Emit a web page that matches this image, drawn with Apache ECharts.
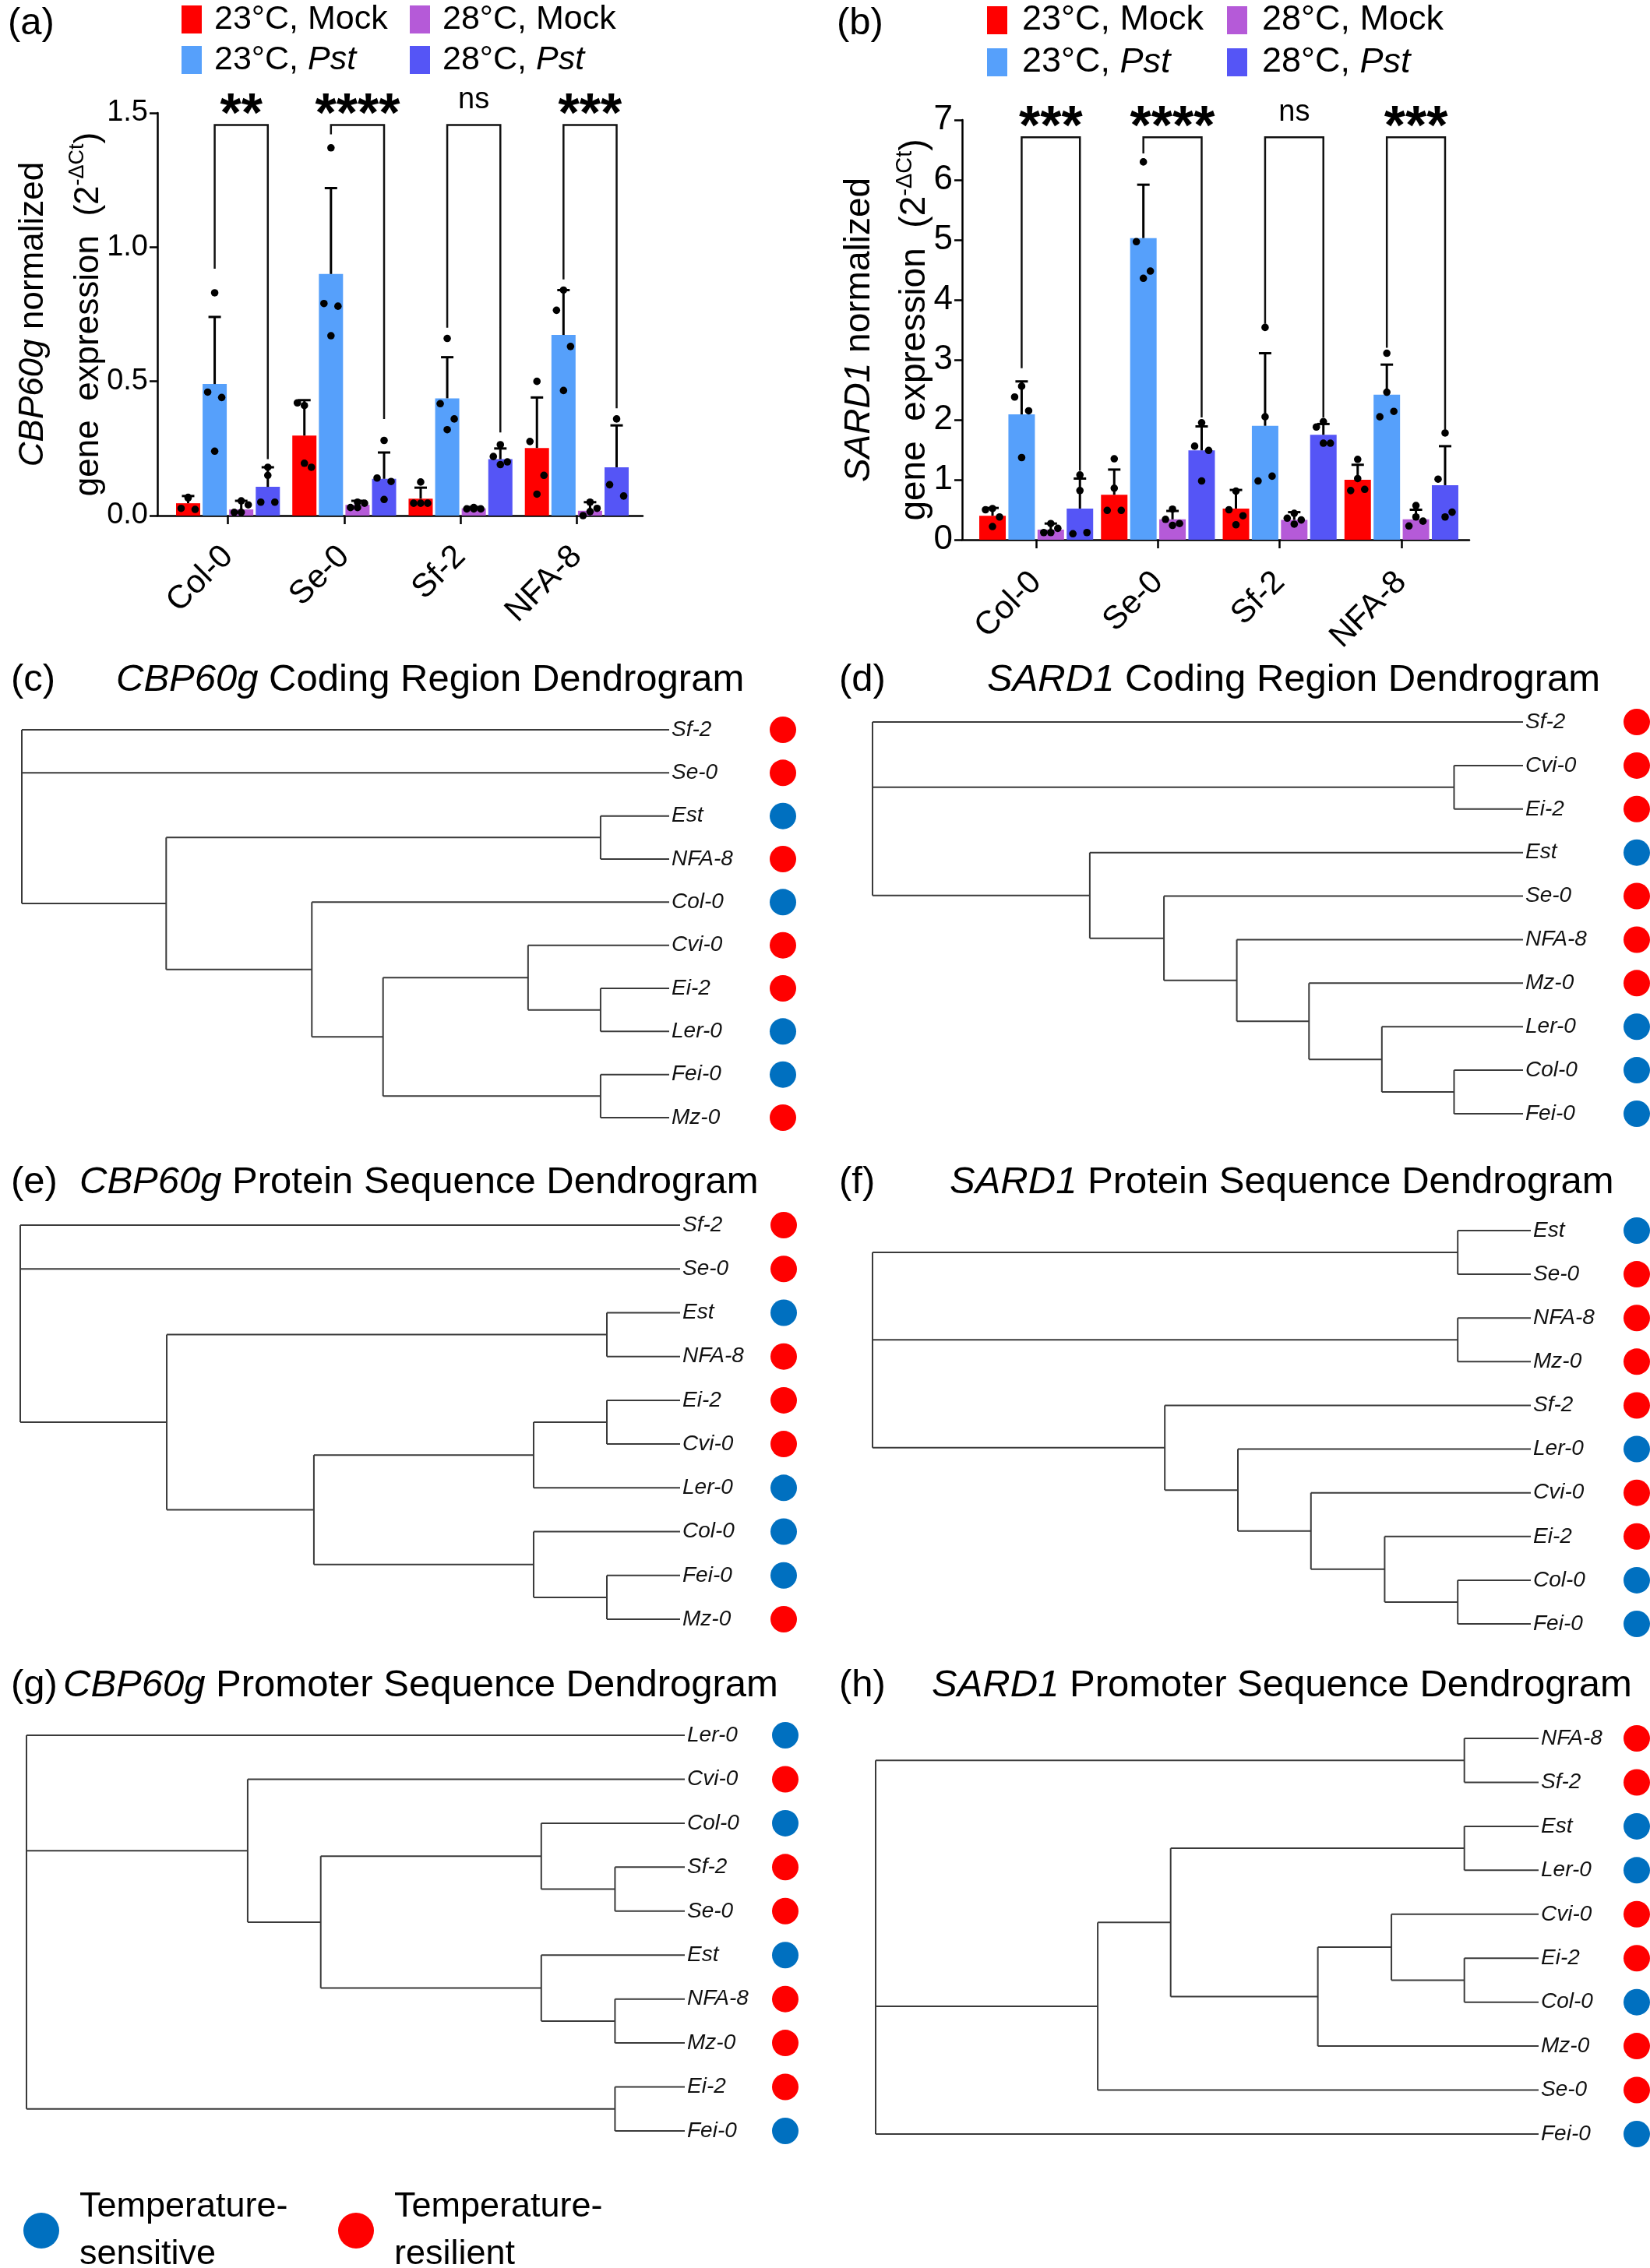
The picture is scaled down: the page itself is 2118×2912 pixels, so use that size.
<!DOCTYPE html>
<html><head><meta charset="utf-8">
<script src="https://cdn.jsdelivr.net/npm/echarts@6/dist/echarts.min.js"></script>
<style>html,body{margin:0;padding:0;background:#fff}#c{width:2118px;height:2912px}</style>
</head><body><div id="c"></div>
<script>
const FONT = '"Liberation Sans", Arial, Helvetica, sans-serif';

// ---------- bar chart data ----------
const accessionsBar = ['Col-0', 'Se-0', 'Sf-2', 'NFA-8'];
const seriesNames = ['23°C, Mock', '23°C, Pst', '28°C, Mock', '28°C, Pst'];
const barColors = ['#ff0000', '#56a0fb', '#b55ad8', '#5555f6'];

// (a) CBP60g
const cbpMock23 = [0.046, 0.298, 0.063, 0.252];
const cbpPst23  = [0.49, 0.90, 0.437, 0.673];
const cbpMock28 = [0.023, 0.04, 0.027, 0.018];
const cbpPst28  = [0.107, 0.137, 0.21, 0.18];
const cbpMock23Sd = [0.027, 0.132, 0.041, 0.188];
const cbpPst23Sd  = [0.25, 0.32, 0.153, 0.167];
const cbpMock28Sd = [0.032, 0.015, 0.005, 0.032];
const cbpPst28Sd  = [0.073, 0.098, 0.04, 0.156];
const cbpMock23Pts = [[0.066, 0.027, 0.023, 0.068], [0.41, 0.42, 0.18, 0.195], [0.125, 0.046, 0.046, 0.046], [0.50, 0.276, 0.15, 0.08]];
const cbpPst23Pts  = [[0.83, 0.46, 0.44, 0.24], [1.37, 0.79, 0.78, 0.67], [0.66, 0.417, 0.36, 0.32], [0.84, 0.765, 0.63, 0.466]];
const cbpMock28Pts = [[0.055, 0.012, 0.04, 0.012], [0.05, 0.03, 0.046, 0.03], [0.03, 0.025, 0.025, 0.025], [0.05, 0.0, 0.027, 0.015]];
const cbpPst28Pts  = [[0.18, 0.05, 0.05, 0.15], [0.28, 0.14, 0.127, 0.06], [0.264, 0.22, 0.2, 0.19], [0.36, 0.115, 0.073]];
const cbpSigLabels = ['**', '****', 'ns', '***'];
const cbpSigTop = [1.455, 1.455, 1.455, 1.455];
const cbpSigLeftEnd = [0.92, 1.42, 0.70, 0.88];
const cbpSigRightEnd = [0.21, 0.36, 0.31, 0.40];

// (b) SARD1
const sardMock23 = [0.40, 0.75, 0.52, 1.0];
const sardPst23  = [2.09, 5.03, 1.90, 2.42];
const sardMock28 = [0.17, 0.34, 0.33, 0.34];
const sardPst28  = [0.52, 1.49, 1.75, 0.91];
const sardMock23Sd = [0.13, 0.42, 0.31, 0.25];
const sardPst23Sd  = [0.55, 0.89, 1.21, 0.50];
const sardMock28Sd = [0.10, 0.14, 0.13, 0.16];
const sardPst28Sd  = [0.50, 0.40, 0.18, 0.65];
const sardMock23Pts = [[0.52, 0.50, 0.38, 0.22], [1.35, 0.49, 0.49, 0.86], [0.81, 0.50, 0.40, 0.25], [1.34, 0.82, 0.84, 1.02]];
const sardPst23Pts  = [[2.56, 2.38, 2.15, 1.37], [6.30, 4.97, 4.48, 4.36], [3.54, 0.98, 1.06, 2.05], [3.11, 2.05, 2.14, 2.46]];
const sardMock28Pts = [[0.27, 0.12, 0.19, 0.12], [0.51, 0.34, 0.27, 0.24], [0.44, 0.36, 0.33, 0.26], [0.57, 0.23, 0.31, 0.38]];
const sardPst28Pts  = [[1.08, 0.10, 0.12, 0.82], [1.95, 1.56, 1.49, 0.98], [1.97, 1.88, 1.61, 1.61], [1.78, 1.01, 0.46, 0.38]];
const sardSigLabels = ['***', '****', 'ns', '***'];
const sardSigTop = [6.71, 6.71, 6.71, 6.71];
const sardSigLeftEnd = [2.86, 6.44, 3.6, 3.2];
const sardSigRightEnd = [1.15, 2.04, 2.04, 1.83];

// ---------- dendrogram data ----------
const resilientAccessions = ['Sf-2', 'Se-0', 'NFA-8', 'Cvi-0', 'Ei-2', 'Mz-0'];
const sensitiveAccessions = ['Est', 'Col-0', 'Ler-0', 'Fei-0'];
const SENS = 'Temperature-\nsensitive';
const RESIL = 'Temperature-\nresilient';

const treeCbpCoding = {h: 1, c: ['Sf-2', 'Se-0', {h: 0.777, c: [{h: 0.106, c: ['Est', 'NFA-8']}, {h: 0.552, c: ['Col-0', {h: 0.442, c: [{h: 0.218, c: ['Cvi-0', {h: 0.106, c: ['Ei-2', 'Ler-0']}]}, {h: 0.106, c: ['Fei-0', 'Mz-0']}]}]}]}]};
const treeSardCoding = {h: 1, c: ['Sf-2', {h: 0.106, c: ['Cvi-0', 'Ei-2']}, {h: 0.666, c: ['Est', {h: 0.552, c: ['Se-0', {h: 0.440, c: ['NFA-8', {h: 0.329, c: ['Mz-0', {h: 0.217, c: ['Ler-0', {h: 0.106, c: ['Col-0', 'Fei-0']}]}]}]}]}]}]};
const treeCbpProtein = {h: 1, c: ['Sf-2', 'Se-0', {h: 0.778, c: [{h: 0.111, c: ['Est', 'NFA-8']}, {h: 0.555, c: [{h: 0.222, c: [{h: 0.111, c: ['Ei-2', 'Cvi-0']}, 'Ler-0']}, {h: 0.222, c: ['Col-0', {h: 0.111, c: ['Fei-0', 'Mz-0']}]}]}]}]};
const treeSardProtein = {h: 1, c: [{h: 0.111, c: ['Est', 'Se-0']}, {h: 0.111, c: ['NFA-8', 'Mz-0']}, {h: 0.556, c: ['Sf-2', {h: 0.445, c: ['Ler-0', {h: 0.334, c: ['Cvi-0', {h: 0.222, c: ['Ei-2', {h: 0.111, c: ['Col-0', 'Fei-0']}]}]}]}]}]};
const treeCbpPromoter = {h: 1, c: ['Ler-0', {h: 0.664, c: ['Cvi-0', {h: 0.553, c: [{h: 0.218, c: ['Col-0', {h: 0.106, c: ['Sf-2', 'Se-0']}]}, {h: 0.218, c: ['Est', {h: 0.106, c: ['NFA-8', 'Mz-0']}]}]}]}, {h: 0.106, c: ['Ei-2', 'Fei-0']}]};
const treeSardPromoter = {h: 1, c: [{h: 0.112, c: ['NFA-8', 'Sf-2']}, {h: 0.665, c: [{h: 0.555, c: [{h: 0.112, c: ['Est', 'Ler-0']}, {h: 0.333, c: [{h: 0.222, c: ['Cvi-0', {h: 0.112, c: ['Ei-2', 'Col-0']}]}, 'Mz-0']}]}, 'Se-0']}, 'Fei-0']};

// ---------- build ----------
const grids = [], xAxes = [], yAxes = [], series = [], titles = [], legends = [];

function barPanel(cfg) {
  const f = grids.length;
  grids.push({left: cfg.axisLeft, top: cfg.top, width: cfg.axisRight - cfg.axisLeft, height: cfg.height, containLabel: false, outerBoundsMode: 'none'});
  xAxes.push({type: 'value', gridIndex: f, min: 0, max: 1, axisLine: {show: true, lineStyle: {color: '#000', width: 2.5}},
    axisTick: {show: false}, axisLabel: {show: false}, splitLine: {show: false}});
  yAxes.push({
    type: 'value', gridIndex: f, min: 0, max: cfg.max, interval: cfg.interval,
    axisLine: {show: true, lineStyle: {color: '#000', width: 2.5}},
    axisTick: {show: true, length: 10, lineStyle: {color: '#000', width: 2.5}},
    axisLabel: {color: '#000', fontSize: cfg.tickFont, fontFamily: FONT, margin: 12, formatter: cfg.fmt},
    splitLine: {show: false},
    name: cfg.yName, nameLocation: 'middle', nameRotate: 90, nameGap: cfg.nameGap, nameMoveOverlap: false,
    nameTextStyle: {color: '#000', fontSize: cfg.nameFont, fontFamily: FONT, lineHeight: 71,
      rich: {
        it: {fontStyle: 'italic', fontSize: cfg.nameFont, fontFamily: FONT, color: '#000', lineHeight: 71},
        sup: {fontSize: Math.round(cfg.nameFont * 0.62), fontFamily: FONT, color: '#000', verticalAlign: 'top', lineHeight: 30, padding: [8, 0, 0, 0]}
      }}
  });
  const g = grids.length;
  grids.push({left: cfg.bandLeft, top: cfg.top, width: cfg.bandWidth, height: cfg.height, containLabel: false, outerBoundsMode: 'none'});
  xAxes.push({
    type: 'category', gridIndex: g, data: accessionsBar,
    axisLine: {show: false},
    axisTick: {show: true, alignWithLabel: true, length: 11, lineStyle: {color: '#000', width: 2.5}},
    axisLabel: {interval: 0, rotate: 45, margin: cfg.catMargin, color: '#000', fontSize: cfg.catFont, fontFamily: FONT},
    splitLine: {show: false}
  });
  yAxes.push({type: 'value', gridIndex: g, min: 0, max: cfg.max, interval: cfg.interval, show: false, splitLine: {show: false}});

  const step = cfg.barW * 1.1;
  cfg.means.forEach((m, s) => series.push({
    type: 'bar', name: seriesNames[s], xAxisIndex: g, yAxisIndex: g, data: m,
    barWidth: cfg.barW, barGap: '10%', itemStyle: {color: barColors[s]}, z: 2, silent: true
  }));
  const errData = [];
  cfg.means.forEach((m, s) => m.forEach((v, c) => errData.push([c, s, v, cfg.sds[s][c]])));
  series.push({
    type: 'custom', xAxisIndex: g, yAxisIndex: g, data: errData, z: 3, silent: true, encode: {x: 0, y: 2},
    renderItem: (p, api) => {
      const c = api.value(0), s = api.value(1), m = api.value(2), sd = api.value(3);
      const b = api.coord([c, m]), t = api.coord([c, m + sd]);
      const x = b[0] + (s - 1.5) * step;
      return {type: 'group', children: [
        {type: 'line', shape: {x1: x, y1: b[1], x2: x, y2: t[1]}, style: {stroke: '#000', lineWidth: 3}},
        {type: 'line', shape: {x1: x - 8, y1: t[1], x2: x + 8, y2: t[1]}, style: {stroke: '#000', lineWidth: 3}}
      ]};
    }
  });
  const jit = [0, -9, 9, 0];
  const ptData = [];
  cfg.pts.forEach((arr, s) => arr.forEach((vals, c) => vals.forEach((v, k) => ptData.push([c, s, v, k]))));
  series.push({
    type: 'custom', xAxisIndex: g, yAxisIndex: g, data: ptData, z: 4, silent: true, encode: {x: 0, y: 2},
    renderItem: (p, api) => {
      const pt = api.coord([api.value(0), api.value(2)]);
      const x = pt[0] + (api.value(1) - 1.5) * step + jit[api.value(3)];
      return {type: 'circle', shape: {cx: x, cy: pt[1], r: 4.8}, style: {fill: '#000'}};
    }
  });
  const brData = cfg.sigTop.map((t, c) => [c, t, cfg.sigL[c], cfg.sigR[c]]);
  series.push({
    type: 'custom', xAxisIndex: g, yAxisIndex: g, data: brData, z: 5, silent: true, clip: false, encode: {x: 0, y: 1},
    renderItem: (p, api) => {
      const c = api.value(0);
      const top = api.coord([c, api.value(1)]);
      const lb = api.coord([c, api.value(2)]);
      const rb = api.coord([c, api.value(3)]);
      const xl = top[0] - 0.5 * step, xr = top[0] + 1.5 * step;
      const lab = cfg.sigLabels[p.dataIndex];
      const isNs = lab === 'ns';
      return {type: 'group', children: [
        {type: 'polyline', shape: {points: [[xl, lb[1]], [xl, top[1]], [xr, top[1]], [xr, rb[1]]]}, style: {stroke: '#111', lineWidth: 2.5, fill: null}},
        {type: 'text', x: (xl + xr) / 2, y: top[1] - (isNs ? 32 : 11), style: {
          text: lab, align: 'center', verticalAlign: 'middle', fill: '#000',
          font: (isNs ? 'normal 38px ' : 'bold 70px ') + FONT}}
      ]};
    }
  });
  const legText = {color: '#000', fontSize: cfg.legFont, fontFamily: FONT, width: cfg.legTextW, lineHeight: 48, padding: [0, 0, 0, cfg.legPad],
    rich: {i: {fontStyle: 'italic', fontSize: cfg.legFont, fontFamily: FONT, color: '#000'}}};
  const fmt = n => n.replace('Pst', '{i|Pst}');
  [[seriesNames[0], seriesNames[2]], [seriesNames[1], seriesNames[3]]].forEach((row, r) => legends.push({
    data: row.map(n => ({name: n, icon: 'rect'})), left: cfg.legLeft, top: cfg.legTops[r], padding: 0, orient: 'horizontal',
    itemWidth: 26, itemHeight: 36, itemGap: cfg.legGap, selectedMode: false, formatter: fmt, textStyle: legText
  }));
}

barPanel({
  axisLeft: 202, axisRight: 825, bandLeft: 218, bandWidth: 597, top: 145, height: 517,
  max: 1.5, interval: 0.5, fmt: v => v.toFixed(1),
  tickFont: 38, catFont: 42, catMargin: 46, barW: 31,
  yName: '{it|CBP60g} normalized\ngene  expression  (2{sup|-ΔCt})', nameFont: 44, nameGap: 53,
  means: [cbpMock23, cbpPst23, cbpMock28, cbpPst28], sds: [cbpMock23Sd, cbpPst23Sd, cbpMock28Sd, cbpPst28Sd],
  pts: [cbpMock23Pts, cbpPst23Pts, cbpMock28Pts, cbpPst28Pts],
  sigLabels: cbpSigLabels, sigTop: cbpSigTop, sigL: cbpSigLeftEnd, sigR: cbpSigRightEnd,
  legLeft: 233, legTops: [1, 53], legFont: 43, legTextW: 240, legPad: 11, legGap: 11
});
barPanel({
  axisLeft: 1235, axisRight: 1886, bandLeft: 1252, bandWidth: 625, top: 154, height: 539,
  max: 7, interval: 1, fmt: v => String(v),
  tickFont: 44, catFont: 42, catMargin: 48, barW: 34,
  yName: '{it|SARD1} normalized\ngene  expression  (2{sup|-ΔCt})', nameFont: 46, nameGap: 25,
  means: [sardMock23, sardPst23, sardMock28, sardPst28], sds: [sardMock23Sd, sardPst23Sd, sardMock28Sd, sardPst28Sd],
  pts: [sardMock23Pts, sardPst23Pts, sardMock28Pts, sardPst28Pts],
  sigLabels: sardSigLabels, sigTop: sardSigTop, sigL: sardSigLeftEnd, sigR: sardSigRightEnd,
  legLeft: 1267, legTops: [2, 56], legFont: 45, legTextW: 250, legPad: 14, legGap: 13
});

function layoutTree(tree) {
  const leaves = [], segs = [];
  (function walk(node) {
    if (typeof node === 'string') { const y = leaves.length; leaves.push(node); return {h: 0, y}; }
    const kids = node.c.map(walk);
    const y = (kids[0].y + kids[kids.length - 1].y) / 2;
    segs.push([node.h, kids[0].y, node.h, kids[kids.length - 1].y]);
    kids.forEach(k => segs.push([node.h, k.y, k.h, k.y]));
    return {h: node.h, y};
  })(tree);
  return {leaves, segs};
}

function treePanel(tree, cfg) {
  const g = grids.length;
  const {leaves, segs} = layoutTree(tree);
  grids.push({left: cfg.left, top: cfg.top, width: cfg.width, height: cfg.height, containLabel: false, outerBoundsMode: 'none'});
  xAxes.push({type: 'value', gridIndex: g, min: 0, max: 1, inverse: true, show: false});
  yAxes.push({type: 'value', gridIndex: g, min: 0, max: leaves.length - 1, inverse: true, show: false});
  series.push({
    type: 'custom', xAxisIndex: g, yAxisIndex: g, data: segs, silent: true, clip: false, encode: {x: [0, 2], y: [1, 3]},
    renderItem: (p, api) => {
      const a = api.coord([api.value(0), api.value(1)]), b = api.coord([api.value(2), api.value(3)]);
      return {type: 'line', shape: {x1: a[0], y1: a[1], x2: b[0], y2: b[1]}, style: {stroke: '#3a3a3a', lineWidth: 2}};
    }
  });
  series.push({
    type: 'custom', xAxisIndex: g, yAxisIndex: g, data: leaves.map((n, i) => [0, i]), silent: true, clip: false, encode: {x: 0, y: 1},
    renderItem: (p, api) => {
      const a = api.coord([api.value(0), api.value(1)]);
      return {type: 'text', x: a[0] + 3, y: a[1], style: {text: leaves[p.dataIndex], align: 'left', verticalAlign: 'middle',
        fill: '#111', font: 'italic 28px ' + FONT}};
    }
  });
  [[SENS, sensitiveAccessions, '#0070c0'], [RESIL, resilientAccessions, '#ff0000']].forEach(([nm, set, col]) => {
    series.push({
      type: 'scatter', name: nm, xAxisIndex: g, yAxisIndex: g, silent: true, clip: false,
      data: leaves.map((n, i) => set.includes(n) ? [0, i] : null).filter(d => d),
      symbol: 'circle', symbolSize: 34, symbolOffset: [cfg.circleOff, 0], itemStyle: {color: col, opacity: 1}
    });
  });
  titles.push({text: cfg.tag, left: cfg.tagLeft, top: cfg.titleY - 28, padding: 0,
    textStyle: {fontSize: 49, fontWeight: 'normal', color: '#000', fontFamily: FONT, lineHeight: 56}});
  titles.push({text: cfg.title, left: cfg.titleLeft, top: cfg.titleY - 28, padding: 0,
    textStyle: {fontSize: 49, fontWeight: 'normal', color: '#000', fontFamily: FONT, lineHeight: 56,
      rich: {it: {fontStyle: 'italic', fontSize: 49, fontFamily: FONT, color: '#000', lineHeight: 56}}}});
}

treePanel(treeCbpCoding, {left: 28, top: 937, width: 831, height: 498, circleOff: 146,
  tag: '(c)', tagLeft: 14, title: '{it|CBP60g} Coding Region Dendrogram', titleLeft: 149, titleY: 873});
treePanel(treeSardCoding, {left: 1120, top: 927, width: 835, height: 503, circleOff: 146,
  tag: '(d)', tagLeft: 1077, title: '{it|SARD1} Coding Region Dendrogram', titleLeft: 1267, titleY: 873});
treePanel(treeCbpProtein, {left: 26, top: 1573, width: 847, height: 506, circleOff: 133,
  tag: '(e)', tagLeft: 14, title: '{it|CBP60g} Protein Sequence Dendrogram', titleLeft: 102, titleY: 1518});
treePanel(treeSardProtein, {left: 1120, top: 1580, width: 845, height: 505, circleOff: 136,
  tag: '(f)', tagLeft: 1077, title: '{it|SARD1} Protein Sequence Dendrogram', titleLeft: 1219, titleY: 1518});
treePanel(treeCbpPromoter, {left: 34, top: 2228, width: 845, height: 508, circleOff: 129,
  tag: '(g)', tagLeft: 14, title: '{it|CBP60g} Promoter Sequence Dendrogram', titleLeft: 81, titleY: 2164});
treePanel(treeSardPromoter, {left: 1124, top: 2232, width: 851, height: 508, circleOff: 126,
  tag: '(h)', tagLeft: 1077, title: '{it|SARD1} Promoter Sequence Dendrogram', titleLeft: 1196, titleY: 2164});

titles.push({text: '(a)', left: 10, top: 2, padding: 0, textStyle: {fontSize: 49, fontWeight: 'normal', color: '#000', fontFamily: FONT, lineHeight: 56}});
titles.push({text: '(b)', left: 1074, top: 2, padding: 0, textStyle: {fontSize: 49, fontWeight: 'normal', color: '#000', fontFamily: FONT, lineHeight: 56}});

legends.push({
  data: [{name: SENS, icon: 'circle'}, {name: RESIL, icon: 'circle'}], left: 30, top: 2803, padding: 0,
  orient: 'horizontal', itemWidth: 46, itemHeight: 46, itemGap: 22, selectedMode: false,
  itemStyle: {opacity: 1},
  textStyle: {color: '#000', fontSize: 45, fontFamily: FONT, lineHeight: 61, width: 310, padding: [0, 0, 0, 21]}
});

const chart = echarts.init(document.getElementById('c'), null, {renderer: 'canvas', width: 2118, height: 2912});
chart.setOption({
  backgroundColor: '#fff', animation: false,
  title: titles, legend: legends, grid: grids, xAxis: xAxes, yAxis: yAxes, series: series,
  tooltip: {show: false}
});
</script>
</body></html>
